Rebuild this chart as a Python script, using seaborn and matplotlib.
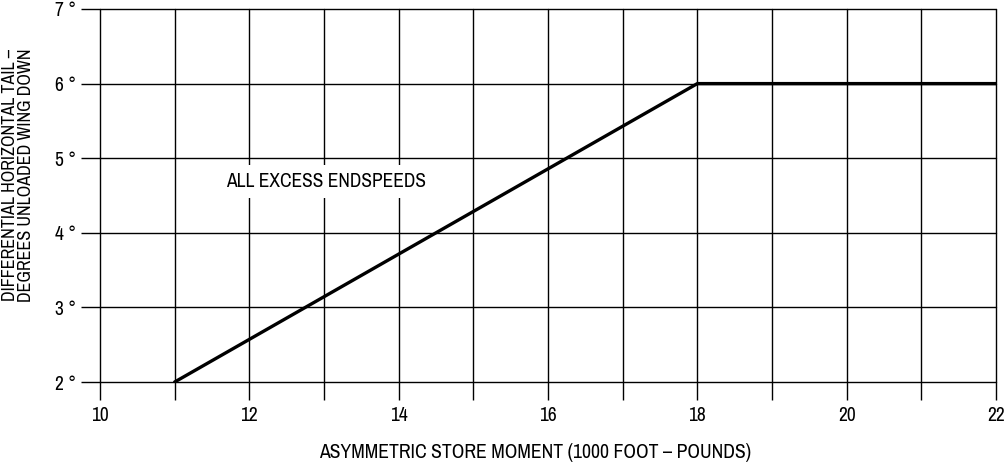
import matplotlib
matplotlib.use("Agg")
import matplotlib.pyplot as plt
from matplotlib import font_manager
import seaborn as sns
import pandas as pd

# Differential tail deflection vs asymmetric store moment
moment = [11, 18, 22]          # 1000 ft-lb
tail_deg = [2, 6, 6]           # degrees

x_ticks = [10, 12, 14, 16, 18, 20, 22]
x_grid = list(range(10, 23))
y_ticks = [2, 3, 4, 5, 6, 7]
y_labels = [f"{v} \u00b0" for v in y_ticks]

sns.set_theme(style="white")
names = sorted({f.name for f in font_manager.fontManager.ttflist})
narrow = [n for n in names if "Narrow" in n or "Condensed" in n]
plt.rcParams["font.family"] = narrow[:1] + ["Liberation Sans", "DejaVu Sans"]
plt.rcParams["font.weight"] = "light"

fig = plt.figure(figsize=(10.06, 4.68), dpi=100)
ax = fig.add_axes([100 / 1006, 1 - 382 / 468, 896 / 1006, 373 / 468])

df = pd.DataFrame({"moment": moment, "deg": tail_deg})
sns.lineplot(data=df, x="moment", y="deg", ax=ax, color="black", linewidth=2.4,
             zorder=3)

ax.set_xlim(10, 22)
ax.set_ylim(2, 7)
for s in ax.spines.values():
    s.set_visible(False)

# grid lines that run past the plot edge as long ticks
ax.set_xticks(x_grid)
ax.set_xticklabels([str(v) if v in x_ticks else "" for v in x_grid])
ax.set_yticks(y_ticks)
ax.set_yticklabels(y_labels)
ax.tick_params(axis="x", length=13, width=1, color="black", pad=4,
               labelsize=14, bottom=True, direction="out", labelcolor="black")
ax.tick_params(axis="y", length=14, width=1, color="black", pad=3,
               labelsize=14, left=True, direction="out", labelcolor="black")
ax.grid(True, color="black", linewidth=1)
for gl in ax.get_xgridlines() + ax.get_ygridlines():
    gl.set_clip_on(False)

ax.text(13.03, 4.69, "ALL EXCESS ENDSPEEDS", ha="center", va="center",
        fontsize=14, color="black", zorder=4,
        bbox=dict(facecolor="white", edgecolor="none", pad=5))

ax.set_xlabel("")
ax.set_ylabel("")
fig.text(535 / 1006, 1 - 453 / 468, "ASYMMETRIC STORE MOMENT (1000 FOOT \u2013 POUNDS)",
         ha="center", va="center", fontsize=14.2, color="black")
fig.text(18 / 1006, 1 - 175 / 468,
         "DIFFERENTIAL HORIZONTAL TAIL \u2013\nDEGREES UNLOADED WING DOWN",
         ha="center", va="center", rotation=90, fontsize=13, color="black",
         linespacing=1.0)

fig.savefig("out.png", dpi=100, facecolor="white")
